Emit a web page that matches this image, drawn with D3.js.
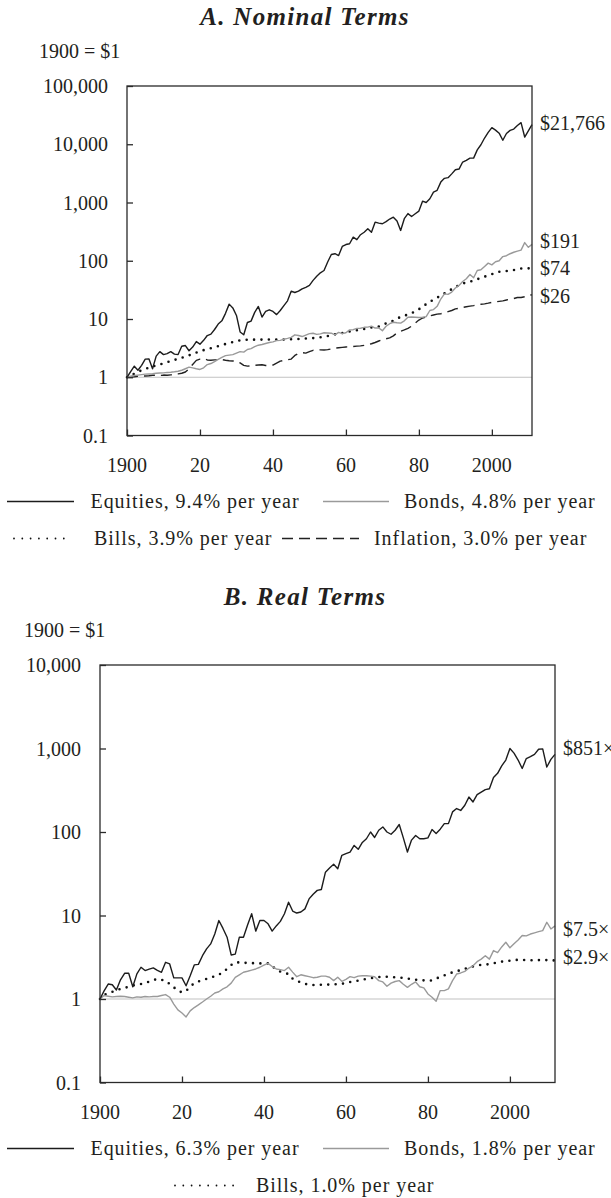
<!DOCTYPE html>
<meta charset="utf-8">
<style>
body { margin: 0; background: #fff; }
svg { display: block; font-family: "Liberation Serif", "Times New Roman", serif; }
.tick-label { font-size: 20px; fill: #231f20; }
.legend-text { font-size: 20px; fill: #231f20; letter-spacing: 0.95px; }
.title { font-size: 25px; font-weight: bold; font-style: italic; fill: #231f20; letter-spacing: 1.3px; }
</style>
<svg id="chart" width="611" height="1198"></svg>
<script src="https://d3js.org/d3.v7.min.js"></script>
<script>

// Years are index positions: 1900 = start value, each later year = value at end of the previous year.
var years = d3.range(1900, 2012);

var yTicksA = [0.1, 1, 10, 100, 1000, 10000, 100000],
    yTicksB = [0.1, 1, 10, 100, 1000, 10000],
    xTicks = [1900, 1920, 1940, 1960, 1980, 2000],
    xTickLabels = ["1900", "20", "40", "60", "80", "2000"];

// Panel A, nominal terms
var equitiesNominal = [
  1.00, 1.25, 1.55, 1.32, 1.60, 2.05, 2.07, 1.40, 2.30, 2.75,
  2.45, 2.55, 2.75, 2.50, 2.45, 3.40, 3.50, 2.85, 3.30, 4.10,
  3.70, 4.30, 5.20, 5.50, 6.60, 8.20, 9.30, 12.5, 18.0, 15.5,
  11.5, 6.00, 5.35, 8.70, 9.20, 13.0, 16.4, 10.8, 13.5, 14.4,
  13.5, 11.9, 14.0, 17.0, 20.5, 30.0, 28.5, 30.0, 33.0, 35.0,
  37.7, 46, 54, 62, 68, 95, 128, 132, 123, 176,
  190, 196, 254, 230, 280, 309, 354, 309, 460, 443,
  432, 470, 520, 560, 480, 331, 527, 645, 576, 640,
  712, 1054, 1000, 1160, 1510, 1620, 2240, 2600, 2670, 3100,
  3650, 3750, 4950, 5300, 5780, 5780, 8000, 9800, 12800, 16000,
  19300, 17500, 15500, 11700, 15300, 17300, 18200, 21000, 23500, 13300,
  17000, 21766
];
var bondsNominal = [
  1.00, 1.04, 1.07, 1.09, 1.11, 1.13, 1.14, 1.15, 1.17, 1.18,
  1.19, 1.21, 1.22, 1.24, 1.27, 1.32, 1.40, 1.49, 1.45, 1.40,
  1.36, 1.45, 1.65, 1.72, 1.85, 2.02, 2.20, 2.35, 2.40, 2.45,
  2.60, 2.75, 2.70, 3.00, 3.10, 3.35, 3.55, 3.65, 3.80, 3.95,
  4.05, 4.25, 4.30, 4.50, 4.65, 4.85, 5.35, 5.20, 5.00, 5.30,
  5.60, 5.70, 5.45, 5.55, 5.80, 5.75, 5.70, 5.35, 5.90, 5.60,
  5.80, 6.50, 6.55, 6.90, 6.95, 7.20, 7.25, 7.55, 7.00, 7.00,
  6.30, 7.50, 8.30, 8.80, 8.60, 8.50, 9.30, 10.7, 10.8, 10.7,
  10.6, 10.7, 11.0, 14.0, 14.5, 16.5, 22.0, 27.0, 26.5, 29.0,
  34.0, 37.7, 44.0, 49.0, 58.0, 51.0, 68.0, 70.0, 80.0, 91.0,
  85.0, 96.0, 100, 118, 122, 132, 140, 146, 152, 205,
  170, 191
];
var billsNominal = [
  1.00, 1.07, 1.15, 1.23, 1.32, 1.39, 1.46, 1.53, 1.59, 1.66,
  1.73, 1.81, 1.90, 1.98, 2.07, 2.16, 2.27, 2.38, 2.50, 2.65,
  2.78, 2.92, 3.03, 3.15, 3.28, 3.42, 3.57, 3.72, 3.87, 4.03,
  4.18, 4.30, 4.38, 4.40, 4.41, 4.42, 4.42, 4.43, 4.43, 4.44,
  4.44, 4.45, 4.45, 4.46, 4.48, 4.50, 4.52, 4.54, 4.58, 4.63,
  4.66, 4.70, 4.78, 4.86, 4.95, 5.10, 5.30, 5.45, 5.60, 5.75,
  5.90, 6.10, 6.25, 6.40, 6.55, 6.75, 6.95, 7.15, 7.30, 7.45,
  7.90, 8.40, 8.80, 9.40, 10.1, 10.9, 11.4, 11.9, 12.6, 13.5,
  14.7, 16.2, 18.0, 19.8, 21.4, 23.2, 25.4, 27.5, 29.8, 32.5,
  35.3, 38.0, 40.6, 42.3, 43.8, 45.6, 48.2, 50.8, 53.4, 56.0,
  58.7, 62.2, 64.7, 65.8, 66.5, 67.3, 69.3, 72.4, 73.7, 73.9,
  74.0, 74.0
];
var inflationNominal = [
  1.00, 1.01, 1.02, 1.04, 1.05, 1.05, 1.06, 1.08, 1.08, 1.07,
  1.09, 1.08, 1.10, 1.12, 1.14, 1.17, 1.23, 1.40, 1.66, 1.95,
  2.05, 2.10, 1.98, 1.96, 1.99, 1.99, 2.01, 1.96, 1.92, 1.90,
  1.89, 1.76, 1.60, 1.55, 1.57, 1.60, 1.62, 1.64, 1.59, 1.59,
  1.62, 1.75, 1.89, 1.95, 2.00, 2.05, 2.37, 2.57, 2.64, 2.60,
  2.75, 2.90, 2.93, 2.95, 2.94, 2.98, 3.07, 3.16, 3.21, 3.26,
  3.31, 3.33, 3.37, 3.42, 3.46, 3.53, 3.65, 3.76, 3.95, 4.19,
  4.42, 4.57, 4.73, 5.14, 5.77, 6.17, 6.49, 6.92, 7.53, 8.53,
  9.60, 10.4, 10.8, 11.3, 11.7, 12.1, 12.3, 12.8, 13.4, 14.0,
  14.9, 15.3, 15.8, 16.2, 16.6, 17.0, 17.6, 17.9, 18.2, 18.7,
  19.3, 19.6, 20.1, 20.5, 21.2, 21.9, 22.5, 23.4, 23.4, 24.1,
  25.6, 26.0
];

// Panel B, real terms
var equitiesReal = [
  1.00, 1.25, 1.51, 1.48, 1.28, 1.70, 2.03, 2.03, 1.40, 2.00,
  2.40, 2.19, 2.28, 2.36, 2.20, 2.09, 2.75, 2.63, 1.79, 1.79,
  1.79, 1.44, 1.90, 2.56, 2.60, 3.30, 3.98, 4.57, 6.00, 8.70,
  7.00, 5.50, 3.37, 3.45, 5.50, 5.50, 7.70, 10.5, 6.50, 8.70,
  8.70, 7.95, 6.50, 7.50, 8.50, 10.5, 14.4, 11.3, 10.7, 11.0,
  12.0, 15.8, 18.0, 20.0, 20.5, 33.0, 37.0, 41.0, 36.3, 52.6,
  55.0, 57.5, 69.0, 62.0, 75.0, 83.0, 100, 86.0, 105, 115,
  100, 94.0, 105, 123, 85.0, 57.5, 80.0, 91.0, 83.0, 83.0,
  85.0, 107, 96.0, 108, 126, 126, 174, 191, 181, 209,
  262, 229, 280, 300, 322, 330, 449, 504, 620, 727,
  1000, 880, 727, 577, 758, 800, 850, 980, 990, 600,
  740, 851
];
var bondsReal = [
  1.00, 1.10, 1.08, 1.06, 1.07, 1.08, 1.07, 1.05, 1.03, 1.06,
  1.05, 1.07, 1.06, 1.07, 1.07, 1.10, 1.13, 1.05, 0.87, 0.74,
  0.68, 0.61, 0.72, 0.79, 0.85, 0.92, 1.00, 1.08, 1.18, 1.22,
  1.32, 1.40, 1.55, 1.82, 1.95, 2.09, 2.15, 2.22, 2.29, 2.40,
  2.55, 2.67, 2.45, 2.29, 2.25, 2.19, 2.40, 2.10, 1.85, 1.95,
  1.90, 1.85, 1.80, 1.82, 1.88, 1.88, 1.82, 1.66, 1.82, 1.63,
  1.72, 1.85, 1.80, 1.88, 1.90, 1.90, 1.88, 1.85, 1.66, 1.60,
  1.42, 1.55, 1.62, 1.66, 1.50, 1.38, 1.50, 1.60, 1.40, 1.36,
  1.15, 1.05, 0.94, 1.26, 1.26, 1.32, 1.66, 1.99, 2.05, 2.14,
  2.35, 2.50, 2.80, 3.00, 3.30, 3.00, 3.80, 3.60, 4.20, 4.78,
  4.10, 4.60, 5.10, 5.75, 5.70, 6.00, 6.20, 6.40, 6.60, 8.30,
  6.90, 7.50
];
var billsReal = [
  1.00, 1.12, 1.18, 1.22, 1.27, 1.32, 1.36, 1.40, 1.45, 1.48,
  1.51, 1.55, 1.62, 1.68, 1.74, 1.70, 1.65, 1.51, 1.38, 1.26,
  1.20, 1.25, 1.40, 1.55, 1.62, 1.68, 1.74, 1.80, 1.88, 1.96,
  2.09, 2.30, 2.55, 2.75, 2.74, 2.72, 2.70, 2.69, 2.68, 2.67,
  2.67, 2.67, 2.45, 2.29, 2.13, 2.06, 1.99, 1.75, 1.65, 1.58,
  1.52, 1.48, 1.47, 1.47, 1.48, 1.48, 1.49, 1.50, 1.51, 1.52,
  1.55, 1.60, 1.63, 1.66, 1.70, 1.74, 1.77, 1.80, 1.83, 1.85,
  1.85, 1.83, 1.82, 1.80, 1.79, 1.76, 1.72, 1.70, 1.69, 1.67,
  1.66, 1.67, 1.75, 1.85, 1.92, 2.00, 2.09, 2.15, 2.22, 2.30,
  2.40, 2.46, 2.52, 2.56, 2.58, 2.62, 2.68, 2.74, 2.80, 2.85,
  2.88, 2.92, 2.95, 2.94, 2.93, 2.92, 2.91, 2.92, 2.94, 2.92,
  2.90, 2.90
];

var endLabelsA = ["$21,766", "$191", "$74", "$26"],
    endLabelsB = ["$851\u00d7", "$7.5\u00d7", "$2.9\u00d7"];

var legendA = ["Equities, 9.4% per year", "Bonds, 4.8% per year",
               "Bills, 3.9% per year", "Inflation, 3.0% per year"],
    legendB = ["Equities, 6.3% per year", "Bonds, 1.8% per year",
               "Bills, 1.0% per year"];

var styles = {
  equities:  {stroke: "#1c1c1c", width: 1.4, dash: null, cap: "butt"},
  bonds:     {stroke: "#9a9a9a", width: 1.4, dash: null, cap: "butt"},
  bills:     {stroke: "#111", width: 2.6, dash: "0,7.4", cap: "round"},
  inflation: {stroke: "#222", width: 1.4, dash: "11,6", cap: "butt"}
};

var svg = d3.select("#chart");

drawPanel({
  title: "A. Nominal Terms", titleY: 25,
  baseLabelX: 39, baseLabelY: 58,
  left: 127, right: 532, top: 86, bottom: 435.5,
  yTicks: yTicksA,
  series: [
    {key: "inflation", values: inflationNominal, label: endLabelsA[3], nudge: 1},
    {key: "bills", values: billsNominal, label: endLabelsA[2], nudge: 0},
    {key: "bonds", values: bondsNominal, label: endLabelsA[1], nudge: -3},
    {key: "equities", values: equitiesNominal, label: endLabelsA[0], nudge: -2}
  ],
  legend: [
    {key: "equities", text: legendA[0], x0: 7, x1: 74, tx: 90.5, row: 0},
    {key: "bonds", text: legendA[1], x0: 323, x1: 389, tx: 404, row: 0},
    {key: "bills", text: legendA[2], x0: 14, x1: 72, tx: 94, row: 1},
    {key: "inflation", text: legendA[3], x0: 282, x1: 359, tx: 374, row: 1}
  ]
});

drawPanel({
  title: "B. Real Terms", titleY: 605,
  baseLabelX: 24, baseLabelY: 637,
  left: 100, right: 555, top: 665, bottom: 1082.5,
  yTicks: yTicksB,
  series: [
    {key: "bills", values: billsReal, label: endLabelsB[2], nudge: -3},
    {key: "bonds", values: bondsReal, label: endLabelsB[1], nudge: 3},
    {key: "equities", values: equitiesReal, label: endLabelsB[0], nudge: -6}
  ],
  legend: [
    {key: "equities", text: legendB[0], x0: 7, x1: 74, tx: 90.5, row: 0},
    {key: "bonds", text: legendB[1], x0: 323, x1: 389, tx: 404, row: 0},
    {key: "bills", text: legendB[2], x0: 175, x1: 234, tx: 256, row: 1}
  ]
});

function drawPanel(p) {
  var x = d3.scaleLinear().domain([1900, 2011]).range([p.left, p.right]);
  var y = d3.scaleLog().domain([p.yTicks[0], p.yTicks[p.yTicks.length - 1]]).range([p.bottom, p.top]);

  var g = svg.append("g");

  g.append("text")
      .attr("class", "title")
      .attr("x", 305)
      .attr("y", p.titleY)
      .attr("text-anchor", "middle")
      .text(p.title);

  g.append("text")
      .attr("class", "tick-label")
      .attr("x", p.baseLabelX)
      .attr("y", p.baseLabelY)
      .text("1900 = $1");

  // reference line at $1
  g.append("line")
      .attr("x1", p.left).attr("x2", p.right)
      .attr("y1", y(1)).attr("y2", y(1))
      .attr("stroke", "#c2c2c2")
      .attr("stroke-width", 1.1);

  var line = d3.line()
      .x(function(d, i) { return x(years[i]); })
      .y(function(d) { return y(d); });

  p.series.forEach(function(s) {
    var st = styles[s.key];
    g.append("path")
        .datum(s.values)
        .attr("fill", "none")
        .attr("stroke", st.stroke)
        .attr("stroke-width", st.width)
        .attr("stroke-dasharray", st.dash)
        .attr("stroke-linecap", st.cap)
        .attr("stroke-linejoin", "round")
        .attr("d", line);

    g.append("text")
        .attr("class", "tick-label")
        .attr("x", p.right + 8)
        .attr("y", y(s.values[s.values.length - 1]) + s.nudge)
        .attr("dy", "0.35em")
        .text(s.label);
  });

  // frame
  g.append("rect")
      .attr("x", p.left).attr("y", p.top)
      .attr("width", p.right - p.left)
      .attr("height", p.bottom - p.top)
      .attr("fill", "none")
      .attr("stroke", "#2a2a2a")
      .attr("stroke-width", 1.3);

  // y axis, ticks drawn inward
  var yAxis = g.append("g")
      .attr("transform", "translate(" + p.left + ",0)")
      .call(d3.axisRight(y).tickValues(p.yTicks).tickSize(6).tickFormat(""));
  yAxis.select(".domain").remove();
  yAxis.selectAll("line").attr("stroke", "#2a2a2a").attr("stroke-width", 1.3);

  g.selectAll(".ylab")
    .data(p.yTicks)
    .enter().append("text")
      .attr("class", "tick-label")
      .attr("x", p.left - 19)
      .attr("y", function(d) { return y(d); })
      .attr("dy", "0.35em")
      .attr("text-anchor", "end")
      .text(function(d) { return d < 1 ? "0.1" : d3.format(",")(d); });

  // x axis, ticks drawn inward
  var xAxis = g.append("g")
      .attr("transform", "translate(0," + p.bottom + ")")
      .call(d3.axisTop(x).tickValues(xTicks).tickSize(6).tickFormat(""));
  xAxis.select(".domain").remove();
  xAxis.selectAll("line").attr("stroke", "#2a2a2a").attr("stroke-width", 1.3);

  g.selectAll(".xlab")
    .data(xTicks)
    .enter().append("text")
      .attr("class", "tick-label")
      .attr("x", function(d) { return x(d); })
      .attr("y", p.bottom + 36)
      .attr("text-anchor", "middle")
      .text(function(d, i) { return xTickLabels[i]; });

  // legend
  p.legend.forEach(function(l) {
    var st = styles[l.key],
        base = p.bottom + 72.5 + l.row * 37,
        ly = base - 6.5;
    g.append("line")
        .attr("x1", l.x0).attr("x2", l.x1)
        .attr("y1", ly).attr("y2", ly)
        .attr("stroke", st.stroke)
        .attr("stroke-width", l.key === "bills" ? 1.8 : st.width)
        .attr("stroke-dasharray", l.key === "bills" ? "0,8.3" : st.dash)
        .attr("stroke-linecap", st.cap);
    g.append("text")
        .attr("class", "legend-text")
        .attr("x", l.tx)
        .attr("y", base)
        .text(l.text);
  });
}
</script>
